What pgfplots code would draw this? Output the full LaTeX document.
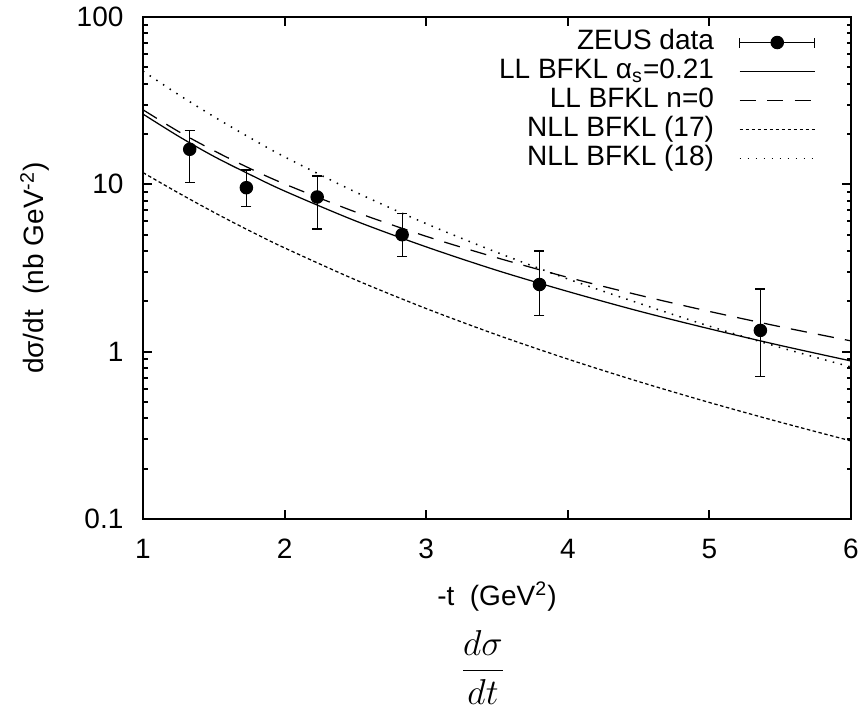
\documentclass[border=0pt]{standalone}
\usepackage{fontspec}
\setmainfont{Liberation Sans}
\usepackage{pgfplots}
\pgfplotsset{compat=1.18}
\usepackage{pgfplotstable}

% ZEUS measurements: -t, dsigma/dt, upper and lower errors
\pgfplotstableread{
x     y     ep    em
1.33  16.2  4.7   5.9
1.73  9.55  2.65  2.15
2.23  8.4   2.8   3.0
2.83  5.0   1.7   1.3
3.80  2.52  1.48  0.87
5.36  1.34  1.03  0.63
}\zeusdata

% BFKL predictions
\pgfplotstableread{
x     ll     lln0   nll17  nll18
1.00  26.3   27.9   11.75  47.5
1.25  19.4   20.7   8.89   34.4
1.50  14.7   15.9   6.81   25.4
1.75  11.5   12.5   5.29   19.1
2.00  9.12   10.05  4.17   14.6
2.50  6.05   6.84   2.69   9.00
3.00  4.23   4.89   1.81   5.82
3.50  3.06   3.64   1.26   3.92
4.00  2.29   2.78   0.903  2.72
4.50  1.75   2.18   0.663  1.95
5.00  1.37   1.74   0.497  1.42
5.50  1.09   1.41   0.379  1.06
6.00  0.88   1.16   0.293  0.81
}\bfkl

\begin{document}
\begin{tikzpicture}
\begin{axis}[
  scale only axis,
  width=283.2pt, height=200.8pt,
  ymode=log,
  xmin=1, xmax=6, ymin=0.1, ymax=100,
  xtick={1,2,3,4,5,6},
  xticklabels={1,2,3,4,5,6},
  ytick={0.1,1,10,100},
  yticklabels={0.1,1,10,100},
  /pgf/number format/assume math mode=true,
  tick align=inside,
  major tick length=3.5pt,
  minor tick length=1.8pt,
  every tick/.style={black, line width=0.8pt},
  axis line style={line width=1pt},
  tick label style={font=\fontsize{11.2}{13}\selectfont},
  xticklabel style={yshift=-4.5pt},
  yticklabel style={xshift=-4.3pt},
  label style={font=\fontsize{11.2}{13}\selectfont},
  xlabel={-t\ \ (GeV\textsuperscript{2})},
  ylabel={dσ/dt\ \ (nb GeV\textsuperscript{-2})},
  xlabel style={at={(axis description cs:0.5,0)}, anchor=center, yshift=-31pt},
  ylabel style={at={(axis description cs:0,0.5)}, anchor=center, yshift=43.2pt},
  legend plot pos=right,
  legend cell align=right,
  legend style={draw=none, fill=none, inner sep=0pt,
    at={(axis description cs:1,1)}, anchor=north east,
    xshift=-14pt, yshift=-4.6pt,
    font=\fontsize{11.2}{13}\selectfont,
    column sep=10pt, row sep=0.8pt,
    nodes={inner xsep=0pt, inner ysep=0.4pt, text height=7.8pt, text depth=2.2pt}},
  legend image code/.code={\draw[#1] (0pt,0pt) -- (30pt,0pt);},
]

\addplot[black, only marks, mark=*, mark size=2.5pt,
  legend image code/.code={
    \draw[black, line width=0.5pt] (0pt,0pt) -- (30pt,0pt);
    \draw[black, line width=0.5pt] (0pt,-2pt) -- (0pt,2pt);
    \draw[black, line width=0.5pt] (30pt,-2pt) -- (30pt,2pt);
    \fill[black] (15pt,0pt) circle (2.5pt);
  },
  error bars/.cd, y dir=both, y explicit,
  error bar style={line width=0.5pt},
  error mark options={rotate=90, mark size=2pt, line width=0.5pt}]
  table[x=x, y=y, y error plus=ep, y error minus=em] {\zeusdata};
\addlegendentry{ZEUS data}

\addplot[black, line width=0.5pt, smooth] table[x=x, y=ll] {\bfkl};
\addlegendentry{LL BFKL α\textsubscript{s}=0.21}

\addplot[black, line width=0.5pt, smooth, dash pattern=on 6.5pt off 4.5pt] table[x=x, y=lln0] {\bfkl};
\addlegendentry{LL BFKL n=0}

\addplot[black, line width=0.5pt, smooth, dash pattern=on 1.4pt off 1pt] table[x=x, y=nll17] {\bfkl};
\addlegendentry{NLL BFKL (17)}

\addplot[black, line width=0.6pt, smooth, dash pattern=on 0.6pt off 2.6pt] table[x=x, y=nll18] {\bfkl};
\addlegendentry{NLL BFKL (18)}

\end{axis}
\node[font=\fontsize{15.5}{18}\selectfont] at ([xshift=136pt, yshift=-59.4pt]current axis.south west) {$\displaystyle\frac{d\sigma}{dt}$};
\pgfresetboundingbox
\path ([xshift=-57.2pt, yshift=-78.4pt]current axis.south west) rectangle ([xshift=4.4pt, yshift=6.8pt]current axis.north east);
\end{tikzpicture}
\end{document}
